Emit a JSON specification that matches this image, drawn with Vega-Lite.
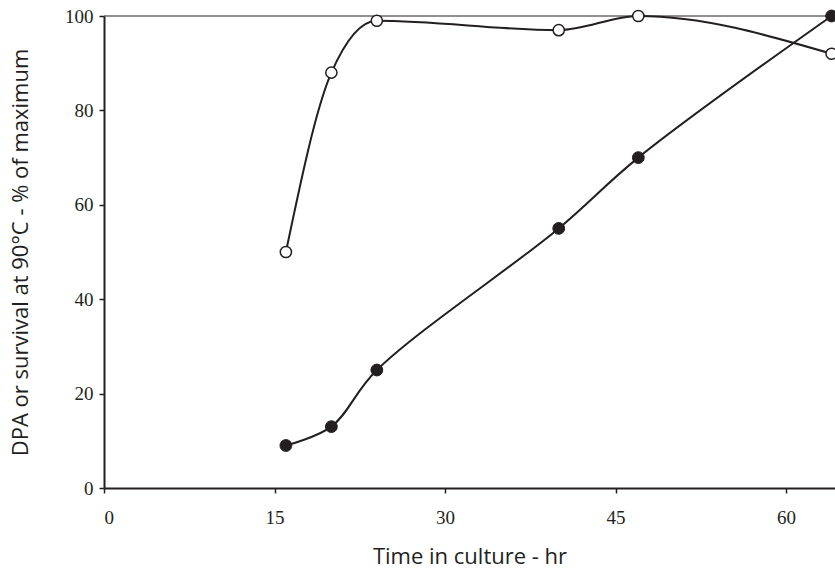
{
  "$schema": "https://vega.github.io/schema/vega-lite/v6.json",
  "autosize": "none",
  "width": 731,
  "height": 472,
  "padding": {"left": 104, "top": 16, "right": 0, "bottom": 81},
  "background": "white",
  "config": {
    "view": {"stroke": null},
    "axis": {
      "domainColor": "#231f20",
      "domainWidth": 2,
      "tickColor": "#231f20",
      "tickWidth": 1.5,
      "tickSize": 5,
      "grid": false,
      "labelFont": "Liberation Serif",
      "labelFontSize": 19,
      "labelColor": "#231f20",
      "titleFont": "Open Sans",
      "titleFontSize": 22,
      "titleFontWeight": "normal",
      "titleColor": "#231f20"
    }
  },
  "datasets": {
    "survival": [
      {"hr": 16, "pct": 50},
      {"hr": 20, "pct": 88},
      {"hr": 24, "pct": 99},
      {"hr": 40, "pct": 97},
      {"hr": 47, "pct": 100},
      {"hr": 64, "pct": 92}
    ],
    "dpa": [
      {"hr": 16, "pct": 9},
      {"hr": 20, "pct": 13},
      {"hr": 24, "pct": 25},
      {"hr": 40, "pct": 55},
      {"hr": 47, "pct": 70},
      {"hr": 64, "pct": 100}
    ],
    "top": [{"pct": 100}]
  },
  "encoding": {
    "x": {
      "field": "hr",
      "type": "quantitative",
      "scale": {"domain": [0, 64.3], "nice": false, "zero": false},
      "axis": {
        "values": [0, 15, 30, 45, 60],
        "labelPadding": 15,
        "title": "Time in culture - hr",
        "titlePadding": 19
      }
    },
    "y": {
      "field": "pct",
      "type": "quantitative",
      "scale": {"domain": [0, 100], "nice": false},
      "axis": {
        "values": [0, 20, 40, 60, 80, 100],
        "labelPadding": 6,
        "title": "DPA or survival at 90°C - % of maximum",
        "titlePadding": 32
      }
    }
  },
  "layer": [
    {
      "data": {"name": "top"},
      "mark": {"type": "rule", "color": "#231f20", "strokeWidth": 1.2},
      "encoding": {"x": null, "y": {"field": "pct", "type": "quantitative"}}
    },
    {
      "data": {"name": "survival"},
      "mark": {"type": "line", "interpolate": "monotone", "color": "#231f20", "strokeWidth": 2}
    },
    {
      "data": {"name": "dpa"},
      "mark": {"type": "line", "interpolate": "catmull-rom", "color": "#231f20", "strokeWidth": 2}
    },
    {
      "data": {"name": "survival"},
      "mark": {"type": "point", "shape": "circle", "size": 125, "filled": true, "fill": "white", "stroke": "#231f20", "strokeWidth": 1.5, "opacity": 1}
    },
    {
      "data": {"name": "dpa"},
      "mark": {"type": "point", "shape": "circle", "size": 140, "filled": true, "fill": "#231f20", "stroke": "#231f20", "strokeWidth": 1, "opacity": 1}
    }
  ]
}
